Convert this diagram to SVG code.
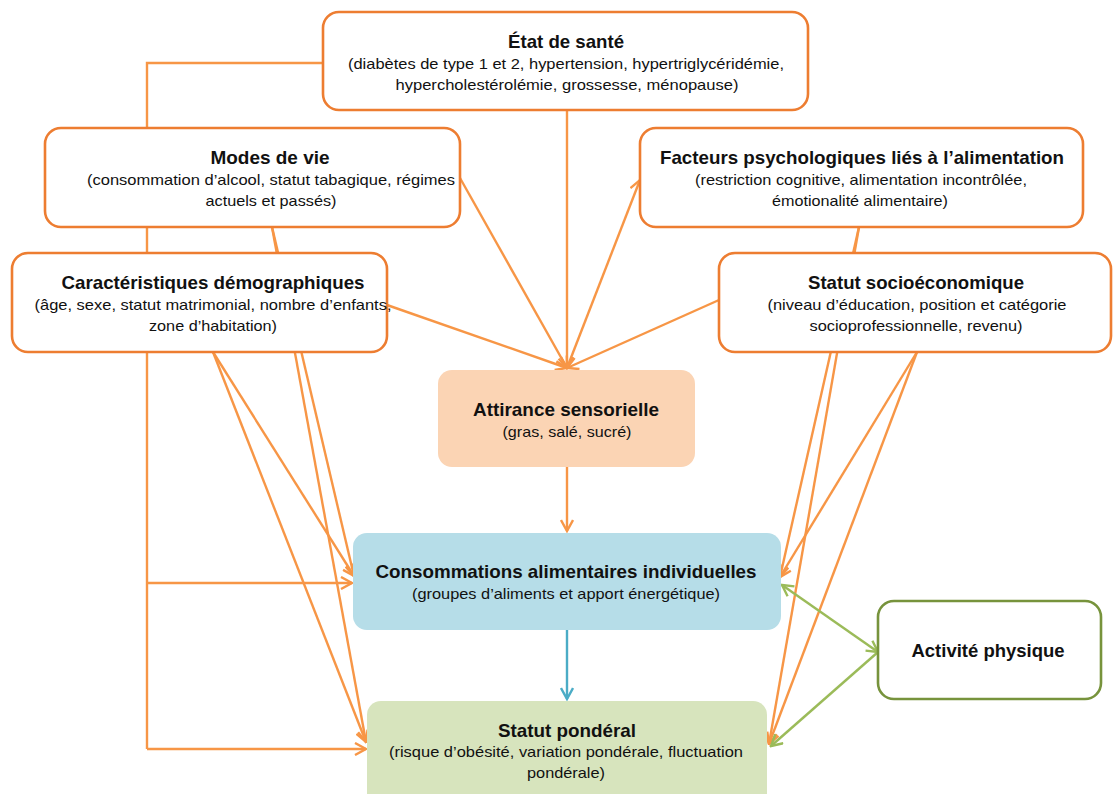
<svg xmlns="http://www.w3.org/2000/svg" width="1113" height="794" viewBox="0 0 1113 794">
<defs>
<style>
.box{fill:#fff;stroke:#ED7D31;stroke-width:2.6}
.c{fill:none;stroke:#F79646;stroke-width:2.4}
.g{fill:none;stroke:#9BBB59;stroke-width:2.4}
.b{fill:none;stroke:#4BACC6;stroke-width:2.4}
text{font-family:"Liberation Sans",Arial,sans-serif;fill:#111;text-anchor:middle}
.t{font-size:18.5px;font-weight:bold}
.s{font-size:15px}
</style>
<marker id="ao" markerUnits="userSpaceOnUse" markerWidth="14" markerHeight="14" viewBox="0 0 14 14" refX="12.5" refY="7" orient="auto-start-reverse"><path d="M1.5,1 L12.5,7 L1.5,13" fill="none" stroke="#F79646" stroke-width="2.4"/></marker>
<marker id="ag" markerUnits="userSpaceOnUse" markerWidth="14" markerHeight="14" viewBox="0 0 14 14" refX="12.5" refY="7" orient="auto-start-reverse"><path d="M1.5,1 L12.5,7 L1.5,13" fill="none" stroke="#9BBB59" stroke-width="2.4"/></marker>
<marker id="ab" markerUnits="userSpaceOnUse" markerWidth="14" markerHeight="14" viewBox="0 0 14 14" refX="12.5" refY="7" orient="auto-start-reverse"><path d="M1.5,1 L12.5,7 L1.5,13" fill="none" stroke="#4BACC6" stroke-width="2.4"/></marker>
</defs>
<rect width="1113" height="794" fill="#fff"/>
<g id="connectors">
<path class="c" d="M323,63 H147 V749"/>
<path class="c" d="M147,583 H352" marker-end="url(#ao)"/>
<path class="c" d="M147,749 H366" marker-end="url(#ao)"/>
<path class="c" d="M567,110 V368" marker-end="url(#ao)"/>
<path class="c" d="M460,178 L567,368" marker-end="url(#ao)"/>
<path class="c" d="M387,305 L567,368" marker-end="url(#ao)"/>
<path class="c" d="M719,300 L567,368" marker-end="url(#ao)"/>
<path class="c" d="M567,368 L640,180" marker-end="url(#ao)"/>
<path class="c" d="M567,467 V531" marker-end="url(#ao)"/>
<path class="c" d="M272,227 L354,576" marker-end="url(#ao)"/>
<path class="c" d="M272,227 L366,742" marker-end="url(#ao)"/>
<path class="c" d="M213,352 L354,576" marker-end="url(#ao)"/>
<path class="c" d="M213,352 L366,742" marker-end="url(#ao)"/>
<path class="c" d="M859,227 L780,577" marker-end="url(#ao)"/>
<path class="c" d="M859,227 L769,744" marker-end="url(#ao)"/>
<path class="c" d="M917,352 L780,577" marker-end="url(#ao)"/>
<path class="c" d="M917,352 L769,744" marker-end="url(#ao)"/>
<path class="b" d="M567,630 V699" marker-end="url(#ab)"/>
<path class="g" d="M782,585 L878,652" marker-start="url(#ag)" marker-end="url(#ag)"/>
<path class="g" d="M878,652 L771,746" marker-end="url(#ag)"/>
</g>
<g id="etat-sante">
<rect class="box" x="323" y="12" width="485" height="98" rx="16"/>
<text class="t" x="566" y="48" textLength="116" lengthAdjust="spacingAndGlyphs">État de santé</text>
<text class="s" x="566" y="69" textLength="436" lengthAdjust="spacingAndGlyphs">(diabètes de type 1 et 2, hypertension, hypertriglycéridémie,</text>
<text class="s" x="567" y="90" textLength="343" lengthAdjust="spacingAndGlyphs">hypercholestérolémie, grossesse, ménopause)</text>
</g>
<g id="modes-de-vie">
<rect class="box" x="45" y="128" width="415" height="99" rx="16"/>
<text class="t" x="270" y="164" textLength="119" lengthAdjust="spacingAndGlyphs">Modes de vie</text>
<text class="s" x="271" y="185" textLength="368" lengthAdjust="spacingAndGlyphs">(consommation d’alcool, statut tabagique, régimes</text>
<text class="s" x="271" y="206" textLength="131" lengthAdjust="spacingAndGlyphs">actuels et passés)</text>
</g>
<g id="caracteristiques">
<rect class="box" x="12" y="253" width="375" height="99" rx="16"/>
<text class="t" x="213" y="289" textLength="303" lengthAdjust="spacingAndGlyphs">Caractéristiques démographiques</text>
<text class="s" x="213" y="310" textLength="357" lengthAdjust="spacingAndGlyphs">(âge, sexe, statut matrimonial, nombre d’enfants,</text>
<text class="s" x="213" y="331" textLength="128" lengthAdjust="spacingAndGlyphs">zone d’habitation)</text>
</g>
<g id="facteurs-psy">
<rect class="box" x="640" y="128" width="443" height="99" rx="16"/>
<text class="t" x="862" y="164" textLength="404" lengthAdjust="spacingAndGlyphs">Facteurs psychologiques liés à l’alimentation</text>
<text class="s" x="861" y="185" textLength="332" lengthAdjust="spacingAndGlyphs">(restriction cognitive, alimentation incontrôlée,</text>
<text class="s" x="860" y="206" textLength="176" lengthAdjust="spacingAndGlyphs">émotionalité alimentaire)</text>
</g>
<g id="statut-socio">
<rect class="box" x="719" y="253" width="392" height="99" rx="16"/>
<text class="t" x="916" y="289" textLength="216" lengthAdjust="spacingAndGlyphs">Statut socioéconomique</text>
<text class="s" x="917" y="310" textLength="299" lengthAdjust="spacingAndGlyphs">(niveau d’éducation, position et catégorie</text>
<text class="s" x="916" y="331" textLength="213" lengthAdjust="spacingAndGlyphs">socioprofessionnelle, revenu)</text>
</g>
<g id="attirance">
<rect x="438" y="370" width="257" height="97" rx="14" fill="#FBD4B4"/>
<text class="t" x="566" y="416" textLength="186" lengthAdjust="spacingAndGlyphs">Attirance sensorielle</text>
<text class="s" x="567" y="437" textLength="129" lengthAdjust="spacingAndGlyphs">(gras, salé, sucré)</text>
</g>
<g id="consommations">
<rect x="353" y="533" width="428" height="97" rx="14" fill="#B6DDE8"/>
<text class="t" x="566" y="578" textLength="381" lengthAdjust="spacingAndGlyphs">Consommations alimentaires individuelles</text>
<text class="s" x="566" y="599" textLength="308" lengthAdjust="spacingAndGlyphs">(groupes d’aliments et apport énergétique)</text>
</g>
<g id="statut-ponderal">
<rect x="367" y="701" width="400" height="110" rx="14" fill="#D7E4BD"/>
<text class="t" x="567" y="737" textLength="138" lengthAdjust="spacingAndGlyphs">Statut pondéral</text>
<text class="s" x="566" y="757" textLength="354" lengthAdjust="spacingAndGlyphs">(risque d’obésité, variation pondérale, fluctuation</text>
<text class="s" x="566" y="778" textLength="78" lengthAdjust="spacingAndGlyphs">pondérale)</text>
</g>
<g id="activite">
<rect x="878" y="601" width="223" height="98" rx="16" fill="#fff" stroke="#77933C" stroke-width="2.6"/>
<text class="t" x="988" y="657" textLength="153" lengthAdjust="spacingAndGlyphs">Activité physique</text>
</g>
</svg>
